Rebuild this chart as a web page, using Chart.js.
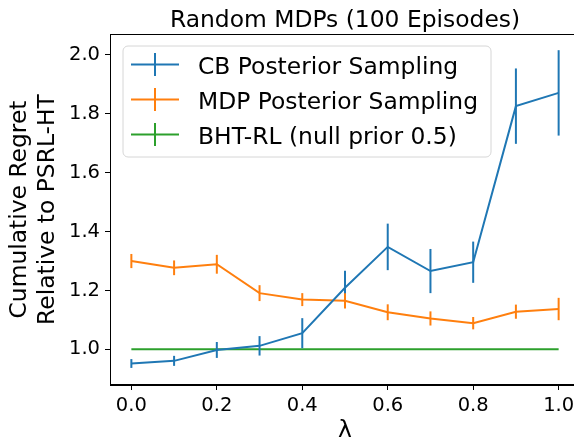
<!DOCTYPE html>
<html>
<head>
<meta charset="utf-8">
<script src="https://cdn.jsdelivr.net/npm/chart.js@4/dist/chart.umd.min.js"></script>
<style>
  html, body { margin: 0; padding: 0; background: #fff; overflow: hidden; }
  canvas { display: block; }
</style>
</head>
<body>
<canvas id="regretChart" width="590" height="452"></canvas>
<script>
// values
const lambdas = [0.0, 0.1, 0.2, 0.3, 0.4, 0.5, 0.6, 0.7, 0.8, 0.9, 1.0];
const cbMean  = [0.952, 0.961, 0.998, 1.012, 1.055, 1.209, 1.348, 1.266, 1.296, 1.826, 1.871];
const cbErr   = [0.015, 0.017, 0.027, 0.033, 0.051, 0.058, 0.079, 0.075, 0.070, 0.128, 0.145];
const mdpMean = [1.300, 1.277, 1.289, 1.191, 1.169, 1.165, 1.126, 1.105, 1.089, 1.128, 1.137];
const mdpErr  = [0.024, 0.025, 0.032, 0.027, 0.022, 0.026, 0.027, 0.024, 0.021, 0.024, 0.038];
const bhtMean = [1.0, 1.0, 1.0, 1.0, 1.0, 1.0, 1.0, 1.0, 1.0, 1.0, 1.0];
const bhtErr  = [0, 0, 0, 0, 0, 0, 0, 0, 0, 0, 0];
const xTicks = [0.0, 0.2, 0.4, 0.6, 0.8, 1.0];
const yTicks = [1.0, 1.2, 1.4, 1.6, 1.8, 2.0];

const FONT = "'DejaVu Sans', sans-serif";
const BIG = 23.4;   // title, legend, axis labels
const SMALL = 19.5; // tick labels
const chartTitle = 'Random MDPs (100 Episodes)';

function series(label, means, errs, color) {
  return {
    label: label,
    data: lambdas.map((x, i) => ({ x: x, y: means[i] })),
    errors: errs,
    borderColor: color,
    backgroundColor: color,
    borderWidth: 2,
    pointRadius: 0,
    tension: 0,
    fill: false
  };
}

// vertical error bars, no caps (like matplotlib's default)
const errorBars = {
  id: 'errorBars',
  afterDatasetsDraw(chart) {
    const ctx = chart.ctx;
    const xs = chart.scales.x, ys = chart.scales.y;
    ctx.save();
    ctx.beginPath();
    ctx.rect(chart.chartArea.left, chart.chartArea.top, chart.chartArea.width, chart.chartArea.height);
    ctx.clip();
    chart.data.datasets.forEach(ds => {
      ctx.strokeStyle = ds.borderColor;
      ctx.lineWidth = 2;
      ds.data.forEach((p, i) => {
        const e = ds.errors[i];
        if (!e) return;
        const px = xs.getPixelForValue(p.x);
        ctx.beginPath();
        ctx.moveTo(px, ys.getPixelForValue(p.y - e));
        ctx.lineTo(px, ys.getPixelForValue(p.y + e));
        ctx.stroke();
      });
    });
    ctx.restore();
  }
};

// frame, title and the boxed legend in the upper left
const decorations = {
  id: 'decorations',
  afterDraw(chart) {
    const ctx = chart.ctx;
    const a = chart.chartArea;
    ctx.save();
    ctx.strokeStyle = '#000';
    ctx.lineWidth = 1;
    ctx.strokeRect(a.left + 0.5, a.top + 0.5, a.width - 1, a.height - 1);

    ctx.fillStyle = '#000';
    ctx.font = BIG + 'px ' + FONT;
    ctx.textAlign = 'center';
    ctx.textBaseline = 'alphabetic';
    ctx.fillText(chartTitle, (a.left + a.right) / 2, 27);

    // legend
    const bx = 123, by = 46, bw = 368, bh = 111, r = 5;
    ctx.beginPath();
    ctx.moveTo(bx + r, by);
    ctx.arcTo(bx + bw, by, bx + bw, by + bh, r);
    ctx.arcTo(bx + bw, by + bh, bx, by + bh, r);
    ctx.arcTo(bx, by + bh, bx, by, r);
    ctx.arcTo(bx, by, bx + bw, by, r);
    ctx.closePath();
    ctx.fillStyle = 'rgba(255,255,255,0.8)';
    ctx.fill();
    ctx.strokeStyle = '#d6d6d6';
    ctx.stroke();

    ctx.textAlign = 'left';
    chart.data.datasets.forEach((ds, i) => {
      const cy = 64.5 + i * 35;
      ctx.strokeStyle = ds.borderColor;
      ctx.lineWidth = 2;
      ctx.beginPath();
      ctx.moveTo(131, cy);
      ctx.lineTo(179, cy);
      ctx.moveTo(155, cy - 11.5);
      ctx.lineTo(155, cy + 11.5);
      ctx.stroke();
      ctx.fillStyle = '#000';
      ctx.fillText(ds.label, 198, cy + 9.5);
    });
    ctx.restore();
  }
};

new Chart(document.getElementById('regretChart'), {
  type: 'line',
  data: {
    datasets: [
      series('CB Posterior Sampling', cbMean, cbErr, '#1f77b4'),
      series('MDP Posterior Sampling', mdpMean, mdpErr, '#ff7f0e'),
      series('BHT-RL (null prior 0.5)', bhtMean, bhtErr, '#2ca02c')
    ]
  },
  options: {
    responsive: false,
    animation: false,
    devicePixelRatio: 1,
    layout: { padding: { top: 34, right: 10, left: 0, bottom: 0 } },
    plugins: { legend: { display: false }, title: { display: false }, tooltip: { enabled: false } },
    scales: {
      x: {
        type: 'linear',
        min: -0.05,
        max: 1.05,
        afterBuildTicks: s => { s.ticks = xTicks.map(v => ({ value: v })); },
        afterFit: s => { s.height = 67; },
        grid: { drawOnChartArea: false, drawTicks: true, tickLength: 5, color: '#000' },
        border: { display: true, color: '#000' },
        ticks: { color: '#000', font: { family: FONT, size: SMALL }, padding: 4, maxRotation: 0,
                 callback: v => v.toFixed(1) },
        title: { display: true, text: 'λ', color: '#000', font: { family: FONT, size: BIG, lineHeight: 1.2 },
                 padding: { top: 0, bottom: 7 } }
      },
      y: {
        type: 'linear',
        min: 0.879,
        max: 2.071,
        afterBuildTicks: s => { s.ticks = yTicks.map(v => ({ value: v })); },
        afterFit: s => { s.width = 110; },
        grid: { drawOnChartArea: false, drawTicks: true, tickLength: 5, color: '#000' },
        border: { display: true, color: '#000' },
        ticks: { color: '#000', font: { family: FONT, size: SMALL }, padding: 5,
                 callback: v => v.toFixed(1) },
        title: { display: true, text: ['Cumulative Regret', 'Relative to PSRL-HT'], color: '#000',
                 font: { family: FONT, size: BIG, lineHeight: 1.2 }, padding: { top: 6, bottom: 0 } }
      }
    }
  },
  plugins: [errorBars, decorations]
});
</script>
</body>
</html>
